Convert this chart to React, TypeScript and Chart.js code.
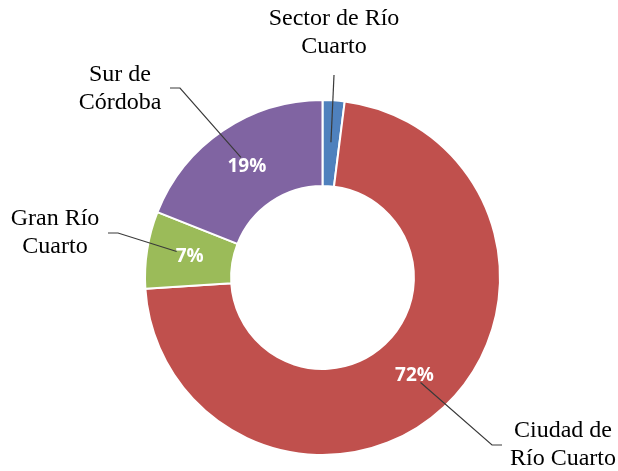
import React, { useEffect, useRef } from "react";
import { Chart, registerables } from "chart.js";

Chart.register(...registerables);

// ---- data ----
const categories = ["Sector de Río Cuarto", "Ciudad de Río Cuarto", "Gran Río Cuarto", "Sur de Córdoba"];
const shares = [2, 72, 7, 19];
const colors = ["#4F81BD", "#C0504D", "#9BBB59", "#8064A2"];
const labelLines = [
  ["Sector de Río", "Cuarto"],
  ["Ciudad de", "Río Cuarto"],
  ["Gran Río", "Cuarto"],
  ["Sur de", "Córdoba"],
];

// ---- outside label layout (not data) ----
const labelAnchors = [
  { x: 334, y: 19 },
  { x: 563, y: 431 },
  { x: 55, y: 219 },
  { x: 120, y: 75 },
];
const leaderStarts = [
  [[334, 75]],
  [[502, 445], [492, 445]],
  [[108, 233], [118, 233]],
  [[170, 88], [180, 88]],
];
const leaderEndOffsets = [
  [0, -1],
  [6, 7],
  [-13, -5],
  [-6, -9],
];

const labelPlugin = {
  id: "outsideLabels",
  afterDatasetsDraw(chart: any) {
    const ctx = chart.ctx as CanvasRenderingContext2D;
    const meta = chart.getDatasetMeta(0);
    const total = shares.reduce((a, b) => a + b, 0);
    ctx.save();
    meta.data.forEach((arc: any, i: number) => {
      const c = arc.getCenterPoint();
      const pct = Math.round((shares[i] / total) * 100);
      if (pct >= 5) {
        ctx.font = "bold 19px 'Open Sans', sans-serif";
        ctx.fillStyle = "#FFFFFF";
        ctx.textAlign = "center";
        ctx.textBaseline = "middle";
        ctx.fillText(pct + "%", c.x, c.y);
      }
      ctx.strokeStyle = "#3A3A3A";
      ctx.lineWidth = 1.2;
      ctx.beginPath();
      const pts = leaderStarts[i];
      ctx.moveTo(pts[0][0], pts[0][1]);
      for (let k = 1; k < pts.length; k++) ctx.lineTo(pts[k][0], pts[k][1]);
      ctx.lineTo(c.x + leaderEndOffsets[i][0], c.y + leaderEndOffsets[i][1]);
      ctx.stroke();
      ctx.font = "24px 'Liberation Serif', 'Times New Roman', serif";
      ctx.fillStyle = "#000000";
      ctx.textAlign = "center";
      ctx.textBaseline = "middle";
      labelLines[i].forEach((line, j) => {
        ctx.fillText(line, labelAnchors[i].x, labelAnchors[i].y + j * 28);
      });
    });
    ctx.restore();
  },
};

export default function App() {
  const ref = useRef<HTMLCanvasElement>(null);
  useEffect(() => {
    if (!ref.current) return;
    const chart = new Chart(ref.current, {
      type: "doughnut",
      data: {
        labels: categories,
        datasets: [
          {
            data: shares,
            backgroundColor: colors,
            borderColor: "#FFFFFF",
            borderWidth: 2,
            hoverBorderWidth: 2,
          },
        ],
      },
      options: {
        responsive: false,
        animation: false,
        cutout: "51.5%",
        rotation: 0,
        layout: { padding: { left: 144, right: 117, top: 99, bottom: 15 } },
        plugins: {
          legend: { display: false },
          tooltip: { enabled: false },
        },
      },
      plugins: [labelPlugin],
    });
    return () => chart.destroy();
  }, []);
  return (
    <div style={{ position: "fixed", left: 0, top: 0, width: 618, height: 471, background: "#fff" }}>
      <canvas ref={ref} width={618} height={471} />
    </div>
  );
}
